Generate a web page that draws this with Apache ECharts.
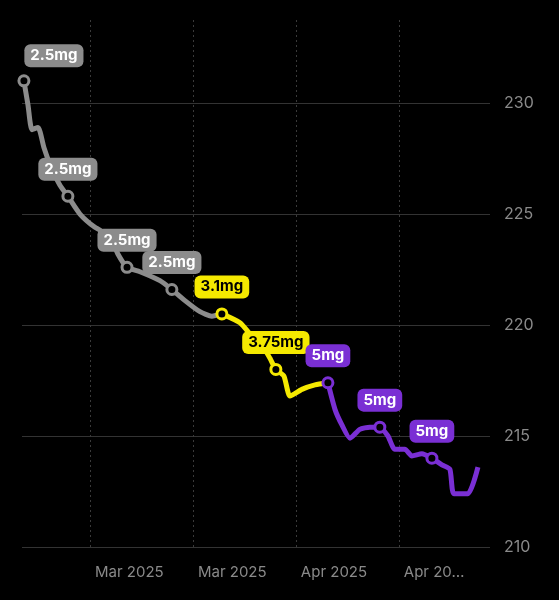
<!DOCTYPE html>
<html><head><meta charset="utf-8">
<script src="https://cdn.jsdelivr.net/npm/echarts@6/dist/echarts.min.js"></script>
<style>html,body{margin:0;background:#000}#c{width:559px;height:600px}</style>
</head><body><div id="c"></div>
<script>
const grayLine=[[2.51,231.0],[2.79,229.9],[3.06,228.8],[3.47,228.9],[3.87,228.0],[4.42,227.0],[4.96,226.3],[5.50,225.8],[6.32,225.0],[7.34,224.4],[8.36,224.0],[8.90,223.2],[9.52,222.6],[10.40,222.4],[11.76,222.0],[12.57,221.6],[13.46,221.1],[14.48,220.6],[15.29,220.4],[15.97,220.5]];
const yellowLine=[[15.97,220.5],[17.20,220.1],[18.01,219.5],[18.69,219.1],[19.24,218.5],[19.64,218.0],[20.19,217.7],[20.60,216.8],[21.41,217.1],[22.30,217.3],[23.18,217.4]];
const purpleLine=[[23.18,217.4],[23.66,216.2],[24.13,215.5],[24.68,214.9],[25.35,215.3],[26.03,215.4],[26.71,215.4],[27.26,215.0],[27.73,214.4],[28.41,214.4],[28.89,214.1],[29.57,214.2],[30.25,214.0],[30.93,213.7],[31.47,213.5],[31.74,212.4],[32.70,212.4],[33.38,213.6]];
const grayDoses=[[2.51,231.0,'2.5mg'],[5.50,225.8,'2.5mg'],[9.52,222.6,'2.5mg'],[12.57,221.6,'2.5mg']];
const yellowDoses=[[15.97,220.5,'3.1mg'],[19.64,218.0,'3.75mg']];
const purpleDoses=[[23.18,217.4,'5mg'],[26.71,215.4,'5mg'],[30.25,214.0,'5mg']];
const xTicks=[7,14,21,28];
const xTickLabels=['Mar 2025','Mar 2025','Apr 2025','Apr 20…'];
const yTicks=[210,215,220,225,230];

const C={g:'#8c8c8c',y:'#f5e900',p:'#7a2fd4'};
function line(d,c){return {type:'line',data:d,showSymbol:false,clip:false,smooth:0.2,lineStyle:{color:c,width:5},z:2};}
function doses(d,c,tc){return {type:'scatter',data:d.map((p,i)=>({value:[p[0],p[1]],name:p[2],label:i===0&&c===C.g?{offset:[30,2]}:{}})),symbol:'circle',symbolSize:10,clip:false,
 itemStyle:{color:'#000',borderColor:c,borderWidth:3,opacity:1},z:3,
 label:{show:true,position:'top',distance:9,formatter:p=>p.name,backgroundColor:c,color:tc,opacity:1,fontSize:15,fontWeight:'bold',fontFamily:'Inter',padding:[4,6],borderRadius:6}};}
const chart=echarts.init(document.getElementById('c'));
chart.setOption({backgroundColor:'#000',animation:false,
 grid:{left:22,right:69,top:20,bottom:53},
 xAxis:{type:'value',min:2.38,max:34.2,axisLine:{show:false},
  axisTick:{show:false,customValues:xTicks},
  axisLabel:{customValues:xTicks,formatter:v=>xTickLabels[xTicks.indexOf(v)]||'',align:'left',margin:18,color:'#8a8a8a',fontSize:15,fontFamily:'Inter',padding:[0,0,0,5]},
  splitLine:{show:true,lineStyle:{color:'#3a3a3a',type:[2,3],width:1}}},
 yAxis:{type:'value',position:'right',min:210,max:233.74,
  axisLine:{show:false},axisTick:{show:false,customValues:yTicks},
  axisLabel:{customValues:yTicks,color:'#8a8a8a',fontSize:16,fontFamily:'Inter',margin:14},
  splitLine:{show:true,lineStyle:{color:'#333',width:1}}},
 series:[line(grayLine,C.g),line(yellowLine,C.y),line(purpleLine,C.p),
  doses(grayDoses,C.g,'#fff'),doses(yellowDoses,C.y,'#000'),doses(purpleDoses,C.p,'#fff')]
});
</script></body></html>
